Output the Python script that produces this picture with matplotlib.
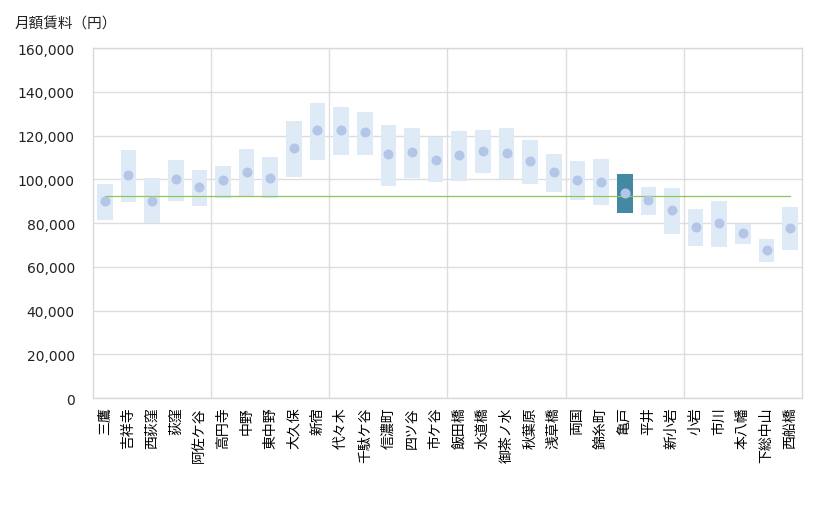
import numpy as np
import matplotlib
matplotlib.use("Agg")
import matplotlib.pyplot as plt

plt.rcParams['font.family'] = ['DejaVu Sans', 'Noto Sans CJK JP']

# Stations along the line
stations = ["三鷹", "吉祥寺", "西荻窪", "荻窪", "阿佐ケ谷", "高円寺", "中野", "東中野",
            "大久保", "新宿", "代々木", "千駄ケ谷", "信濃町", "四ツ谷", "市ケ谷", "飯田橋",
            "水道橋", "御茶ノ水", "秋葉原", "浅草橋", "両国", "錦糸町", "亀戸", "平井",
            "新小岩", "小岩", "市川", "本八幡", "下総中山", "西船橋"]

# Range of monthly rent (low / high) and the average
rent_low = [81500, 89700, 79900, 90100, 87800, 91600, 92200, 91600,
            101200, 108900, 111200, 111200, 97100, 100700, 98900, 99300,
            103000, 100000, 98000, 94300, 90700, 88400, 84700, 83800,
            75100, 69600, 69200, 70500, 62300, 67800]
rent_high = [97800, 113400, 100600, 108800, 104200, 106100, 113800, 110200,
             126600, 134900, 133000, 130700, 124800, 123400, 119300, 122100,
             122500, 123400, 117900, 111500, 108300, 109300, 102400, 96500,
             96000, 86400, 90100, 79700, 72700, 87300]
rent_avg = [89900, 101800, 90200, 100000, 96300, 99500, 103200, 100700,
            114200, 122400, 122400, 121500, 111400, 112300, 108900, 110900,
            112800, 111900, 108200, 103200, 99500, 98900, 93600, 90400,
            85800, 78000, 79900, 75300, 67500, 77600]

overall_avg = 92200
highlight = "亀戸"

fig = plt.figure(figsize=(8.2, 5.1), dpi=100)
ax = fig.add_axes([0.1134, 0.2176, 0.8646, 0.6863])

x = np.arange(len(stations))
low = np.array(rent_low)
high = np.array(rent_high)
colors = ["#4389a3" if s == highlight else "#deeaf6" for s in stations]

ax.bar(x, high - low, bottom=low, width=0.66, color=colors, zorder=2)
ax.plot([x[0], x[-1]], [overall_avg, overall_avg], color="#8fc65a", linewidth=0.9, zorder=3)
ax.plot(x, rent_avg, linestyle="none", marker="o", markersize=6.2,
        color="#b4c6e7", zorder=4)

ax.set_xlim(-0.5, len(stations) - 0.5)
ax.set_ylim(0, 160000)
ax.set_yticks(np.arange(0, 160001, 20000))
ax.set_yticklabels([f"{v:,}" for v in range(0, 160001, 20000)], fontsize=10, color="#222222")
ax.set_xticks(x)
ax.set_xticklabels(stations, rotation=90, fontsize=10, family=['Noto Sans CJK JP'])
ax.tick_params(axis='y', length=0, pad=13)
ax.tick_params(axis='x', length=0, pad=6)

# gridlines: horizontal at ticks, vertical every 5 stations
ax.grid(axis='y', color="#dddddd", linewidth=1, zorder=0)
for b in np.arange(4.5, len(stations) - 1, 5):
    ax.axvline(b, color="#dddddd", linewidth=1, zorder=0)
for sp in ax.spines.values():
    sp.set_color("#d9d9d9")
    sp.set_linewidth(1)

fig.text(0.018, 0.951, "月額賃料（円）", fontsize=10.5, family=['Noto Sans CJK JP'],
         ha='left', va='center', color="#222222")

fig.savefig("out.png", dpi=100)
